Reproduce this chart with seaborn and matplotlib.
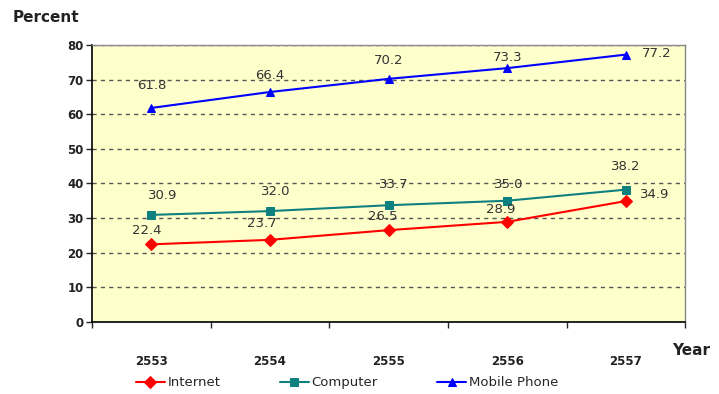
import numpy as np
import pandas as pd
import matplotlib
matplotlib.use("Agg")
import matplotlib.pyplot as plt
import seaborn as sb

# Chart data
years = ["2553", "2554", "2555", "2556", "2557"]
internet = [22.4, 23.7, 26.5, 28.9, 34.9]
computer = [30.9, 32.0, 33.7, 35.0, 38.2]
mobile = [61.8, 66.4, 70.2, 73.3, 77.2]
series_names = ["Internet", "Computer", "Mobile Phone"]

df = pd.DataFrame({
    "pos": list(range(len(years))) * 3,
    "value": internet + computer + mobile,
    "series": np.repeat(series_names, len(years)),
})

sb.set_style("white")
plt.rcParams["font.family"] = ["DejaVu Sans"]

fig = plt.figure(figsize=(7.19, 3.94), dpi=100)
ax = fig.add_axes([0.128, 0.183, 0.825, 0.703])
ax.set_facecolor("#FFFFCC")

colors = {"Internet": "#FF0000", "Computer": "#0E8080", "Mobile Phone": "#0000FF"}
markers = {"Internet": "D", "Computer": "s", "Mobile Phone": "^"}
sizes = {"Internet": 6, "Computer": 6.5, "Mobile Phone": 7.5}

for name in series_names:
    sub = df[df["series"] == name]
    sb.lineplot(data=sub, x="pos", y="value", ax=ax, color=colors[name],
                marker=markers[name], markersize=sizes[name],
                markeredgecolor=colors[name], linewidth=1.5, label=name)

# value labels (offsets in points)
offsets = {
    "Internet": [(-3, 10), (-6, 12), (-4, 10), (-5, 9), (21, 5)],
    "Computer": [(8, 14), (4, 14), (4, 15), (1, 12), (0, 17)],
    "Mobile Phone": [(0, 16), (0, 12), (0, 13), (0, 8), (22, 1)],
}
for name, vals in zip(series_names, [internet, computer, mobile]):
    for i, v in enumerate(vals):
        ax.annotate(f"{v:.1f}", (i, v), xytext=offsets[name][i],
                    textcoords="offset points", ha="center", va="center",
                    fontsize=9.5, color="#333333")

ax.set_xlim(-0.5, len(years) - 0.5)
ax.set_ylim(0, 80)
ax.set_yticks(range(0, 81, 10))
ax.tick_params(axis="y", labelsize=8.5, length=4, width=1, direction="out",
               left=True, pad=2)
for lbl in ax.get_yticklabels():
    lbl.set_fontweight("bold")
    lbl.set_color("#222222")

# category boundaries as major ticks, labels on minor ticks
ax.set_xticks(np.arange(-0.5, len(years), 1.0))
ax.set_xticklabels([])
ax.tick_params(axis="x", which="major", length=4, width=1, direction="out", bottom=True)
ax.set_xticks(range(len(years)), minor=True)
ax.set_xticklabels(years, minor=True)
ax.tick_params(axis="x", which="minor", length=0, pad=24, labelsize=8.5)
for lbl in ax.get_xticklabels(minor=True):
    lbl.set_fontweight("bold")
    lbl.set_color("#222222")

ax.grid(axis="y", linestyle=(0, (3, 3)), color="#555555", linewidth=1)
ax.set_axisbelow(True)
ax.set_xlabel("")
ax.set_ylabel("")

for side in ["left", "bottom"]:
    ax.spines[side].set_color("#000000")
    ax.spines[side].set_linewidth(1.2)
for side in ["top", "right"]:
    ax.spines[side].set_color("#888888")
    ax.spines[side].set_linewidth(1)

fig.text(0.017, 0.955, "Percent", fontsize=11, fontweight="bold", color="#222222",
         va="center")
fig.text(0.935, 0.11, "Year", fontsize=11, fontweight="bold", color="#222222",
         va="center")

handles, labels = ax.get_legend_handles_labels()
for h in handles:
    h.set_markersize(6)
ax.legend(handles, labels, loc="center", bbox_to_anchor=(0.43, -0.22), ncol=3,
          frameon=False, fontsize=9.5, handlelength=2.2, columnspacing=4.5,
          handletextpad=0.2)

plt.savefig("out.png", dpi=100)
